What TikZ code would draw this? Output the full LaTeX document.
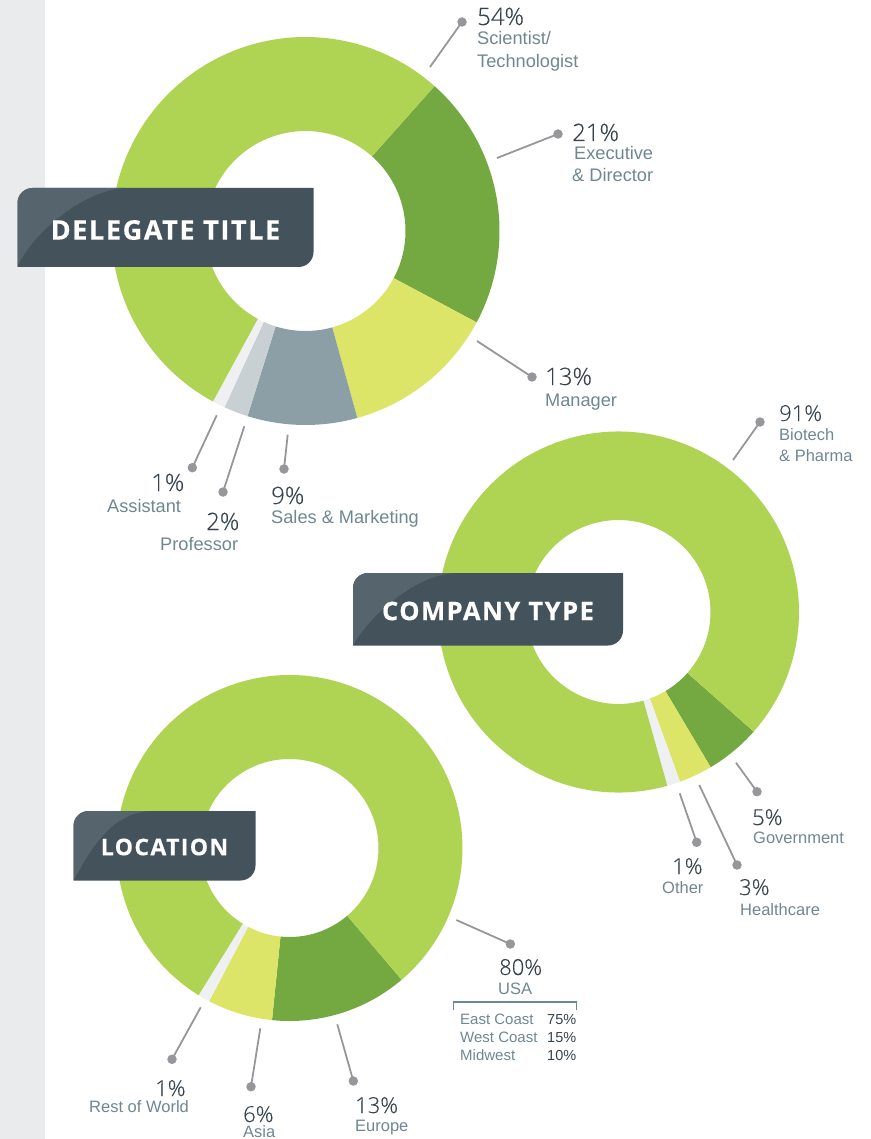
\documentclass[tikz,border=0pt]{standalone}
\usepackage{fontspec}
\setmainfont{Open Sans}[UprightFont=* Light,UprightFeatures={FakeBold=0.25}]
\newfontfamily\namefont{Liberation Sans}
\newfontfamily\headfont{Open Sans}[UprightFont=* Bold,UprightFeatures={FakeBold=0.4},LetterSpace=6]
\definecolor{lgreen}{HTML}{AFD353}
\definecolor{dgreen}{HTML}{74A840}
\definecolor{yel}{HTML}{DDE569}
\definecolor{slate}{HTML}{8D9FA6}
\definecolor{silver}{HTML}{C9D0D3}
\definecolor{pale}{HTML}{EFF0F1}
\definecolor{band}{HTML}{E9EBED}
\definecolor{panel}{HTML}{44525B}
\definecolor{panelhi}{HTML}{56646D}
\definecolor{pct}{HTML}{36434D}
\definecolor{lab}{HTML}{6F8791}
\definecolor{lead}{HTML}{97979B}
\newcommand{\seg}[7]{% cx cy R r a0 a1 colour
  \fill[#7] ({#1+#3*cos(#5)},{#2-#3*sin(#5)}) arc[start angle=-#5,end angle=-#6,radius=#3]
   -- ({#1+#4*cos(#6)},{#2-#4*sin(#6)}) arc[start angle=-#6,end angle=-#5,radius=#4] -- cycle;}
\newcommand{\panelbox}[5]{% x0 y0 x1 y1 curve-x
  \fill[panel] (#1+15,#2) -- (#3,#2) -- (#3,#4-15) arc[start angle=0,end angle=90,radius=15] -- (#1,#4) -- (#1,#2+15) arc[start angle=180,end angle=270,radius=15] -- cycle;
  \fill[panelhi] (#1,#4) .. controls (#1+12.5,#2+48) and (#5-43,#2+2) .. (#5,#2) -- (#1+15,#2) arc[start angle=270,end angle=180,radius=15] -- cycle;
}
\tikzset{
  x=1pt,y=-1pt,
  pctt/.style={anchor=base west,inner sep=0pt,text=pct,font=\fontsize{24}{24}\selectfont},
  pctm/.style={anchor=base west,inner sep=0pt,text=pct,font=\fontsize{22}{22}\selectfont},
  namet/.style={anchor=base west,inner sep=0pt,text=lab,font=\namefont\fontsize{16.5}{17}\selectfont},
  nameb/.style={anchor=base west,inner sep=0pt,text=lab,font=\namefont\fontsize{18.2}{18}\selectfont},
  subt/.style={anchor=base west,inner sep=0pt,text=lab,font=\namefont\fontsize{15}{15}\selectfont},
  subp/.style={anchor=base west,inner sep=0pt,text=pct,font=\namefont\fontsize{14.5}{15}\selectfont},
  heading/.style={anchor=center,inner sep=0pt,text=white,font=\headfont\fontsize{#1}{#1}\selectfont},
  dot/.style={circle,fill=lead,inner sep=0pt,minimum size=9.5pt},
  leader/.style={draw=lead,line width=1.8pt},
}
\begin{document}
\begin{tikzpicture}
\useasboundingbox (0,0) rectangle (870,1139);
\fill[band] (0,0) rectangle (45,1139);
% donut 1
\def\A{305.5}\def\B{231}\def\R{194}\def\I{100}
\seg{\A}{\B}{\R}{\I}{48.3}{-28.1}{dgreen}
\seg{\A}{\B}{\R}{\I}{-28.1}{-74.5}{yel}
\seg{\A}{\B}{\R}{\I}{-74.5}{-107.4}{slate}
\seg{\A}{\B}{\R}{\I}{-107.4}{-114.7}{silver}
\seg{\A}{\B}{\R}{\I}{-114.7}{-118.5}{pale}
\seg{\A}{\B}{\R}{\I}{-118.5}{-311.7}{lgreen}
\panelbox{17.5}{188}{313.5}{267}{125}
\node[heading=27] (h1) at (165.5,230) {DELEGATE TITLE};
% donut 2
\def\A{618.5}\def\B{612}\def\R{180.5}\def\I{92}
\seg{\A}{\B}{\R}{\I}{-41.5}{-59.3}{dgreen}
\seg{\A}{\B}{\R}{\I}{-59.3}{-70.1}{yel}
\seg{\A}{\B}{\R}{\I}{-70.1}{-74.3}{pale}
\seg{\A}{\B}{\R}{\I}{-74.3}{-401.5}{lgreen}
\panelbox{353}{573}{623}{645.5}{455}
\node[heading=25.5] (h2) at (488,611) {COMPANY TYPE};
% donut 3
\def\A{289.5}\def\B{848}\def\R{173}\def\I{89}
\seg{\A}{\B}{\R}{\I}{-49.6}{-95.8}{dgreen}
\seg{\A}{\B}{\R}{\I}{-95.8}{-117.7}{yel}
\seg{\A}{\B}{\R}{\I}{-117.7}{-121.7}{pale}
\seg{\A}{\B}{\R}{\I}{-121.7}{-409.6}{lgreen}
\panelbox{73.5}{811}{255.5}{880.5}{150}
\node[heading=23] (h3) at (164.5,847) {LOCATION};
% leaders
\newcommand{\lead}[5]{\coordinate (#1s) at (#2,#3); \node[dot] (#1d) at (#4,#5) {}; \draw[leader] (#1s) -- (#1d.center);}
\lead{a}{430}{67}{462}{22}
\lead{b}{497}{158}{558}{134}
\lead{c}{477}{341}{532}{377}
\lead{d}{287.7}{434.7}{284}{469}
\lead{e}{244.3}{426.3}{223}{492}
\lead{f}{216.7}{415.3}{192.3}{467.7}
\lead{g}{733}{460}{760}{422}
\lead{h}{736}{762.7}{757}{791.7}
\lead{i}{699.3}{785}{737}{865}
\lead{j}{679.7}{793.3}{696.7}{842.3}
\lead{k}{456.3}{920}{510.3}{944}
\lead{l}{337.3}{1024.3}{353.3}{1081}
\lead{m}{260.3}{1028.3}{251}{1086.7}
\lead{n}{200.7}{1007.3}{172}{1059.3}
% labels
\node[pctt] (t1) at (477,25) {54\%};
\node[nameb] (t2) at (477,45) {Scientist/};
\node[nameb] (t3) at (477,68) {Technologist};
\node[pctt] (t4) at (572,141) {21\%};
\node[nameb] (t5) at (574,160) {Executive};
\node[nameb] (t6) at (572,182) {\& Director};
\node[pctt] (t7) at (545,385) {13\%};
\node[nameb] (t8) at (545,406) {Manager};
\node[pctt] (t9) at (271,504) {9\%};
\node[nameb] (t10) at (271,523) {Sales \& Marketing};
\node[pctt] (t11) at (206,530) {2\%};
\node[nameb] (t12) at (160,550) {Professor};
\node[pctt] (t13) at (151,491) {1\%};
\node[nameb] (t14) at (107,512) {Assistant};
\node[pctm] (t15) at (779,421) {91\%};
\node[namet] (t16) at (779,440) {Biotech};
\node[namet] (t17) at (779,461) {\& Pharma};
\node[pctm] (t18) at (752,825) {5\%};
\node[namet] (t19) at (753,843) {Government};
\node[pctm] (t20) at (739,895) {3\%};
\node[namet] (t21) at (740,915) {Healthcare};
\node[pctm] (t22) at (672,874) {1\%};
\node[namet] (t23) at (662,893) {Other};
\node[pctm] (t24) at (499,975) {80\%};
\node[namet] (t25) at (498,994) {USA};
\node[subt] (t26) at (460,1024) {East Coast};
\node[subt] (t27) at (460,1042) {West Coast};
\node[subt] (t28) at (460,1060) {Midwest};
\node[subp] (t29) at (547,1024) {75\%};
\node[subp] (t30) at (547,1042) {15\%};
\node[subp] (t31) at (547,1060) {10\%};
\node[pctm] (t32) at (355,1113) {13\%};
\node[namet] (t33) at (355,1131) {Europe};
\node[pctm] (t34) at (243,1122) {6\%};
\node[namet] (t35) at (243,1137.5) {Asia};
\node[pctm] (t36) at (155,1096) {1\%};
\node[namet] (t37) at (89,1112) {Rest of World};
\draw[lab,line width=1.2pt] (453.5,1010) -- (453.5,1002) -- (576.5,1002) -- (576.5,1010);
\end{tikzpicture}
\end{document}
